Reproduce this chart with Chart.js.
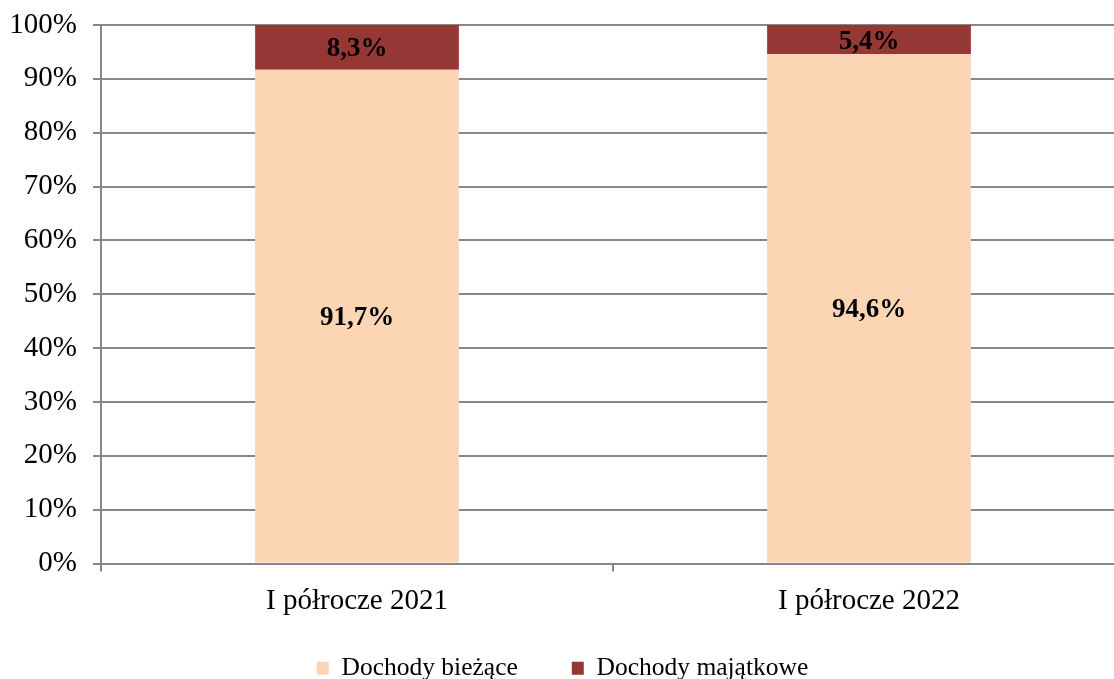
<!DOCTYPE html>
<html>
<head>
<meta charset="utf-8">
<script src="https://cdn.jsdelivr.net/npm/chart.js@4.4.0/dist/chart.umd.min.js"></script>
<style>
  html, body { margin: 0; padding: 0; background: #fff; overflow: hidden; }
  #wrap { width: 1125px; height: 691px; }
</style>
</head>
<body>
<div id="wrap"><canvas id="myChart"></canvas></div>
<script>
// Struktura dochodów
const categories = ['I półrocze 2021', 'I półrocze 2022'];
const biezace = [91.7, 94.6];
const majatkowe = [8.3, 5.4];
const yTicks = [0, 10, 20, 30, 40, 50, 60, 70, 80, 90, 100];

const serif = '"Liberation Serif", "Times New Roman", serif';
const gridColor = '#878787';

// writes the percentage in the middle of each bar segment
const segmentLabels = {
  id: 'segmentLabels',
  afterLayout(chart) {
    // x axis is squeezed above the legend, let its labels spill below it
    chart.scales.x.bottom = chart.height;
  },
  afterDatasetsDraw(chart) {
    const ctx = chart.ctx;
    ctx.save();
    ctx.font = 'bold 27px ' + serif;
    ctx.fillStyle = '#000';
    ctx.textAlign = 'center';
    ctx.textBaseline = 'middle';
    chart.data.datasets.forEach((ds, i) => {
      chart.getDatasetMeta(i).data.forEach((bar, j) => {
        const p = bar.getProps(['x', 'y', 'base'], true);
        const txt = ds.data[j].toFixed(1).replace('.', ',') + '%';
        ctx.fillText(txt, p.x, (p.y + p.base) / 2 + 2);
      });
    });
    ctx.restore();
  }
};

const ctx = document.getElementById('myChart').getContext('2d');

new Chart(ctx, {
  type: 'bar',
  data: {
    labels: categories,
    datasets: [{
      label: 'Dochody bieżące',
      data: biezace,
      backgroundColor: '#FCD5B5'
    }, {
      label: 'Dochody majątkowe',
      data: majatkowe,
      backgroundColor: '#953735'
    }]
  },
  options: {
    responsive: true,
    maintainAspectRatio: false,
    animation: false,
    categoryPercentage: 1,
    barPercentage: 0.398,
    layout: { padding: { top: 25, right: 0, left: 0, bottom: 0 } },
    plugins: {
      tooltip: { enabled: false },
      legend: {
        position: 'bottom',
        labels: {
          color: '#000',
          font: { family: serif, size: 25.5 },
          boxWidth: 12,
          boxHeight: 13,
          padding: 54
        }
      }
    },
    scales: {
      x: {
        stacked: true,
        offset: true,
        afterFit(axis) { axis.height = 38; },
        border: { color: gridColor, width: 2 },
        grid: { offset: true, drawOnChartArea: false, color: gridColor, lineWidth: 2, tickLength: 8 },
        ticks: { color: '#000', font: { family: serif, size: 29 }, padding: 12 }
      },
      y: {
        stacked: true,
        min: 0,
        max: 100,
        afterFit(axis) { axis.width = 101; axis.paddingTop = 0; axis.paddingBottom = 0; },
        afterBuildTicks(axis) { axis.ticks = yTicks.map(v => ({ value: v })); },
        border: { color: gridColor, width: 2 },
        grid: { color: gridColor, lineWidth: 2, tickLength: 8 },
        ticks: {
          color: '#000',
          font: { family: serif, size: 29 },
          padding: 16,
          callback: v => v + '%'
        }
      }
    }
  },
  plugins: [segmentLabels]
});
</script>
</body>
</html>
